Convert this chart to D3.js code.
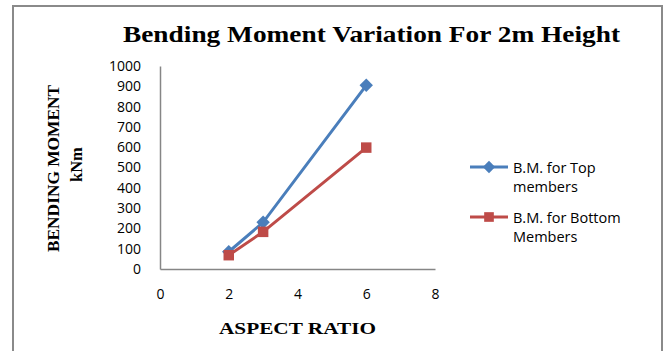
<!DOCTYPE html>
<html>
<head>
<script src="https://d3js.org/d3.v7.min.js"></script>
<style>
  body { margin: 0; background: #fff; }
  svg { display: block; }
</style>
</head>
<body>
<div id="chart"></div>
<script>
var aspectRatio = [2, 3, 6];
var topMembers = [85, 230, 905];
var bottomMembers = [68, 183, 598];
var seriesNames = ["B.M. for Top|members", "B.M. for Bottom|Members"];
var xTicks = [0, 2, 4, 6, 8];
var yTicks = [0, 100, 200, 300, 400, 500, 600, 700, 800, 900, 1000];

var W = 667, H = 351;
var svg = d3.select("#chart").append("svg").attr("width", W).attr("height", H);

// outer frame (bottom edge falls outside the picture)
svg.append("path")
  .attr("d", "M13,360 V6 H662 V360")
  .attr("fill", "none").attr("stroke", "#8a8a8a").attr("stroke-width", 2);

var serif = "'Liberation Serif', 'Times New Roman', serif";
var sans = "'Open Sans', 'Liberation Sans', sans-serif";

svg.append("text")
  .attr("x", 123).attr("y", 42)
  .attr("textLength", 497).attr("lengthAdjust", "spacingAndGlyphs")
  .style("font-family", serif)
  .style("font-weight", "bold").style("font-size", "23px")
  .text("Bending Moment Variation For 2m Height");

var x = d3.scaleLinear().domain([0, 8]).range([160, 435]);
var y = d3.scaleLinear().domain([0, 1000]).range([269, 66]);

// axes
var xAxis = svg.append("g").attr("transform", "translate(0,269)")
  .call(d3.axisBottom(x).tickValues(xTicks).tickSize(0).tickPadding(20));
var yAxis = svg.append("g").attr("transform", "translate(160,0)")
  .call(d3.axisLeft(y).tickValues(yTicks).tickFormat(d3.format("d")).tickSize(0).tickPadding(19));
[xAxis, yAxis].forEach(function (g) {
  g.select(".domain").attr("stroke", "#868686").attr("stroke-width", 1.5);
  g.selectAll("text").style("font-family", sans).style("font-size", "14px").attr("fill", "#000");
});

// axis titles
svg.append("text")
  .attr("x", 219).attr("y", 334)
  .attr("textLength", 157).attr("lengthAdjust", "spacingAndGlyphs")
  .style("font-family", serif).style("font-weight", "bold").style("font-size", "17px")
  .text("ASPECT RATIO");

var yTitle = svg.append("text")
  .attr("transform", "translate(0,252) rotate(-90)")
  .style("font-family", serif).style("font-weight", "bold").style("font-size", "16.5px");
yTitle.append("tspan").attr("x", 0).attr("y", 59)
  .attr("textLength", 167).attr("lengthAdjust", "spacingAndGlyphs").text("BENDING MOMENT");
yTitle.append("tspan").attr("x", 70).attr("y", 82).text("kNm");

var diamond = {
  draw: function (ctx, size) {
    var r = Math.sqrt(size / 2);
    ctx.moveTo(0, -r); ctx.lineTo(r, 0); ctx.lineTo(0, r); ctx.lineTo(-r, 0); ctx.closePath();
  }
};

var series = [
  { values: topMembers, color: "#4a7ebb", shape: diamond, size: 90 },
  { values: bottomMembers, color: "#be4b48", shape: d3.symbolSquare, size: 110 }
];

var line = d3.line().x(function (d) { return x(d[0]); }).y(function (d) { return y(d[1]); });

series.forEach(function (s) {
  var pts = aspectRatio.map(function (a, i) { return [a, s.values[i]]; });
  svg.append("path").datum(pts)
    .attr("d", line).attr("fill", "none")
    .attr("stroke", s.color).attr("stroke-width", 3);
  svg.selectAll(null).data(pts).enter().append("path")
    .attr("transform", function (d) { return "translate(" + x(d[0]) + "," + y(d[1]) + ")"; })
    .attr("d", d3.symbol().type(s.shape).size(s.size))
    .attr("fill", s.color);
});

// legend
var legend = svg.append("g");
series.forEach(function (s, i) {
  var ly = 167 + i * 50;
  var g = legend.append("g").attr("transform", "translate(0," + ly + ")");
  g.append("line").attr("x1", 470).attr("x2", 508).attr("y1", 0).attr("y2", 0)
    .attr("stroke", s.color).attr("stroke-width", 3);
  g.append("path").attr("transform", "translate(489,0)")
    .attr("d", d3.symbol().type(s.shape).size(s.size * 0.85)).attr("fill", s.color);
  var t = g.append("text").style("font-family", sans).style("font-size", "14.5px").attr("fill", "#000");
  seriesNames[i].split("|").forEach(function (part, j) {
    t.append("tspan").attr("x", 513).attr("y", 6 + j * 19).text(part);
  });
});
</script>
</body>
</html>
